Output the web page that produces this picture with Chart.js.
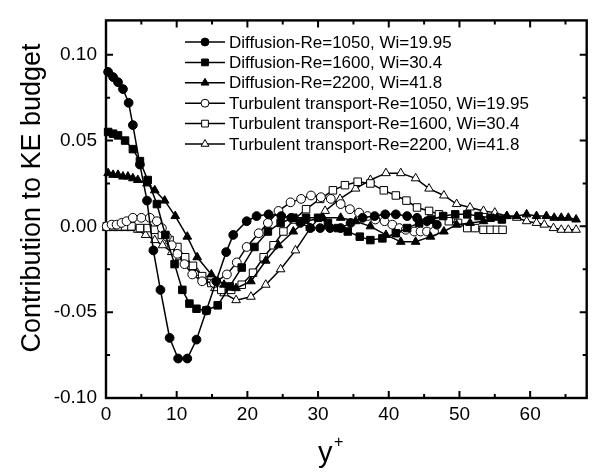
<!DOCTYPE html>
<html>
<head>
<meta charset="utf-8">
<script src="https://cdn.jsdelivr.net/npm/chart.js@4.4.1/dist/chart.umd.min.js"></script>
<style>
  html, body { margin: 0; padding: 0; background: #fff; }
  #wrap { width: 593px; height: 475px; }
</style>
</head>
<body>
<div id="wrap"><canvas id="chart" width="593" height="475"></canvas></div>
<script>
const xTicks = [0, 10, 20, 30, 40, 50, 60];
const yTicks = [-0.10, -0.05, 0.00, 0.05, 0.10];

const seriesNames = [
  'Diffusion-Re=1050, Wi=19.95',
  'Diffusion-Re=1600, Wi=30.4',
  'Diffusion-Re=2200, Wi=41.8',
  'Turbulent transport-Re=1050, Wi=19.95',
  'Turbulent transport-Re=1600, Wi=30.4',
  'Turbulent transport-Re=2200, Wi=41.8'
];

const diff1050X = [0.3, 1.0, 1.7, 2.4, 3.2, 3.8, 4.8, 5.8, 6.7, 7.7, 9.0, 10.2, 11.5, 12.8, 14.2, 15.6, 17.0, 18.0, 19.9, 21.3, 23.0, 24.8, 26.2, 27.5, 28.9, 30.3, 31.7, 33.2, 34.6, 36.3, 38.0, 39.5, 41.0, 42.6, 44.0, 45.4, 46.8];
const diff1050Y = [0.090, 0.087, 0.084, 0.080, 0.072, 0.059, 0.036, 0.015, -0.014, -0.037, -0.065, -0.077, -0.077, -0.066, -0.049, -0.032, -0.015, -0.005, 0.003, 0.006, 0.007, 0.006, 0.005, 0.002, -0.001, -0.001, -0.001, -0.001, 0.002, 0.005, 0.006, 0.007, 0.007, 0.006, 0.005, 0.003, 0.001];

const diff1600X = [0.3, 1.0, 1.7, 2.7, 3.8, 4.8, 5.9, 7.2, 8.4, 9.7, 10.8, 11.8, 12.8, 14.2, 15.8, 17.5, 19.2, 21.0, 22.9, 24.7, 26.5, 28.3, 30.0, 31.4, 32.8, 34.2, 35.9, 37.4, 39.1, 41.0, 42.6, 44.3, 46.0, 47.7, 49.4, 51.1, 52.7, 54.4, 56.0];
const diff1600Y = [0.055, 0.054, 0.053, 0.050, 0.045, 0.038, 0.027, 0.013, -0.005, -0.022, -0.037, -0.045, -0.048, -0.049, -0.046, -0.035, -0.024, -0.012, -0.003, 0.002, 0.005, 0.005, 0.005, 0.002, -0.001, -0.003, -0.006, -0.008, -0.007, -0.004, -0.001, 0.002, 0.004, 0.006, 0.007, 0.007, 0.006, 0.005, 0.004];

const diff2200X = [0.3, 1.0, 1.7, 2.4, 3.1, 3.8, 4.5, 5.8, 6.9, 8.3, 9.8, 11.5, 12.9, 14.9, 16.7, 18.4, 20.5, 22.6, 24.4, 26.5, 28.2, 30.7, 33.2, 35.3, 37.4, 39.6, 41.7, 43.8, 45.9, 47.8, 49.6, 51.5, 53.4, 55.3, 56.7, 58.1, 59.5, 60.9, 62.3, 63.4, 64.4, 65.4, 66.5];
const diff2200Y = [0.031, 0.030, 0.030, 0.029, 0.029, 0.028, 0.027, 0.025, 0.021, 0.015, 0.006, -0.006, -0.018, -0.028, -0.034, -0.036, -0.032, -0.020, -0.011, -0.003, 0.003, 0.005, 0.005, 0.003, 0.000, -0.005, -0.009, -0.009, -0.006, -0.003, 0.001, 0.002, 0.003, 0.005, 0.006, 0.006, 0.007, 0.006, 0.006, 0.005, 0.005, 0.005, 0.004];

const turb1050X = [0.1, 0.8, 1.5, 2.2, 2.9, 3.8, 5.0, 6.2, 7.2, 7.9, 8.6, 9.3, 10.1, 11.1, 12.2, 13.6, 15.3, 17.1, 18.5, 19.9, 21.6, 22.9, 24.4, 26.1, 27.6, 29.0, 30.4, 31.8, 33.2, 34.5, 35.8, 37.0, 38.1, 39.4, 40.5, 41.5, 42.4, 43.6, 44.5, 45.4, 46.4];
const turb1050Y = [0.000, 0.001, 0.001, 0.002, 0.003, 0.005, 0.005, 0.005, 0.003, -0.001, -0.006, -0.011, -0.016, -0.022, -0.028, -0.032, -0.033, -0.028, -0.021, -0.012, -0.004, 0.002, 0.009, 0.014, 0.016, 0.018, 0.017, 0.016, 0.013, 0.010, 0.008, 0.006, 0.004, 0.003, 0.001, -0.001, -0.002, -0.003, -0.003, -0.003, -0.003];

const turb1600X = [0.1, 1.0, 1.8, 2.7, 3.6, 4.8, 5.9, 6.9, 7.9, 9.0, 10.1, 11.2, 12.3, 13.6, 14.9, 16.3, 17.7, 19.2, 20.8, 22.3, 23.7, 25.1, 26.6, 28.3, 30.3, 32.1, 33.8, 35.6, 37.4, 39.3, 41.0, 42.5, 44.0, 45.7, 47.1, 48.5, 49.8, 51.1, 52.2, 53.4, 54.4, 55.3, 56.1];
const turb1600Y = [0.000, 0.000, 0.000, 0.000, 0.000, -0.001, -0.001, -0.002, -0.005, -0.008, -0.012, -0.018, -0.023, -0.029, -0.033, -0.037, -0.037, -0.034, -0.027, -0.018, -0.011, -0.003, 0.004, 0.010, 0.016, 0.021, 0.024, 0.026, 0.025, 0.021, 0.018, 0.015, 0.011, 0.009, 0.007, 0.003, 0.002, -0.001, -0.001, -0.002, -0.002, -0.002, -0.002];

const turb2200X = [0.1, 1.0, 1.8, 2.7, 3.5, 4.5, 5.6, 6.9, 8.0, 9.3, 10.4, 11.6, 12.9, 14.2, 15.4, 16.7, 18.4, 20.5, 22.6, 24.7, 26.8, 28.9, 31.0, 33.1, 35.3, 37.4, 39.6, 41.7, 43.8, 45.7, 47.8, 49.6, 51.5, 53.4, 55.0, 56.7, 58.1, 59.5, 60.9, 62.0, 63.3, 64.4, 65.4, 66.5];
const turb2200Y = [-0.001, -0.001, -0.001, -0.001, -0.001, -0.002, -0.005, -0.008, -0.011, -0.015, -0.018, -0.022, -0.027, -0.032, -0.036, -0.039, -0.043, -0.041, -0.034, -0.025, -0.014, -0.001, 0.009, 0.016, 0.022, 0.027, 0.031, 0.031, 0.028, 0.022, 0.018, 0.013, 0.011, 0.009, 0.008, 0.006, 0.005, 0.003, 0.002, 0.001, -0.001, -0.002, -0.002, -0.002];

const FONT = '"Liberation Sans", Arial, Helvetica, sans-serif';

const pts = (xs, ys) => xs.map((x, i) => ({ x: x, y: ys[i] }));

const makeSet = (i, xs, ys, style, filled, radius) => ({
  label: seriesNames[i],
  data: pts(xs, ys),
  borderColor: '#000',
  borderWidth: 1.5,
  pointStyle: style,
  pointRadius: radius,
  pointHoverRadius: radius,
  pointBackgroundColor: filled ? '#000' : '#fff',
  pointBorderColor: '#000',
  pointBorderWidth: 1,
  tension: 0,
  clip: false,
});

// inward ticks on all four sides plus the box
const framePlugin = {
  id: 'frame',
  beforeDatasetsDraw(chart) {
    const { ctx, chartArea: a, scales: { x, y } } = chart;
    ctx.save();
    ctx.strokeStyle = '#000';
    ctx.lineWidth = 2;
    ctx.beginPath();
    for (let v = 0; v <= 68; v += 5) {
      const px = x.getPixelForValue(v);
      const len = v % 10 === 0 ? 7 : 4;
      ctx.moveTo(px, a.bottom); ctx.lineTo(px, a.bottom - len);
      ctx.moveTo(px, a.top); ctx.lineTo(px, a.top + len);
    }
    for (let k = -4; k <= 4; k++) {
      const py = y.getPixelForValue(k * 0.025);
      const len = k % 2 === 0 ? 7 : 4;
      ctx.moveTo(a.left, py); ctx.lineTo(a.left + len, py);
      ctx.moveTo(a.right, py); ctx.lineTo(a.right - len, py);
    }
    ctx.stroke();
    ctx.lineWidth = 2.4;
    ctx.strokeRect(a.left, a.top, a.right - a.left, a.bottom - a.top);
    ctx.restore();
  }
};

const legendPlugin = {
  id: 'innerLegend',
  afterDraw(chart) {
    const { ctx } = chart;
    ctx.save();
    ctx.font = '17px ' + FONT;
    ctx.textBaseline = 'middle';
    ctx.fillStyle = '#000';
    chart.data.datasets.forEach((ds, i) => {
      const ry = 42 + i * 20.4;
      ctx.strokeStyle = '#000';
      ctx.lineWidth = 1.5;
      ctx.beginPath();
      ctx.moveTo(185, ry); ctx.lineTo(225, ry);
      ctx.stroke();
      ctx.fillStyle = ds.pointBackgroundColor;
      ctx.lineWidth = 1;
      Chart.helpers.drawPoint(ctx, { pointStyle: ds.pointStyle, radius: ds.pointRadius * 0.9, borderWidth: 1, rotation: 0 }, 205, ry);
      ctx.fillStyle = '#000';
      ctx.fillText(ds.label, 229, ry + 1);
    });
    ctx.restore();
  }
};

const titlePlugin = {
  id: 'axisTitles',
  afterDraw(chart) {
    const { ctx } = chart;
    ctx.save();
    ctx.fillStyle = '#000';
    ctx.textAlign = 'center';
    ctx.textBaseline = 'middle';
    ctx.translate(33, 198);
    ctx.rotate(-Math.PI / 2);
    ctx.font = '27px ' + FONT;
    ctx.fillText('Contribution to KE budget', 0, 0);
    ctx.restore();

    ctx.save();
    ctx.fillStyle = '#000';
    ctx.textBaseline = 'alphabetic';
    ctx.font = '29px ' + FONT;
    ctx.fillText('y', 318, 462);
    ctx.font = '16px ' + FONT;
    ctx.fillText('+', 334, 447);
    ctx.restore();
  }
};

new Chart(document.getElementById('chart'), {
  type: 'line',
  data: {
    datasets: [
      makeSet(0, diff1050X, diff1050Y, 'circle', true, 4.4),
      makeSet(1, diff1600X, diff1600Y, 'rect', true, 5.3),
      makeSet(2, diff2200X, diff2200Y, 'triangle', true, 5.0),
      makeSet(3, turb1050X, turb1050Y, 'circle', false, 4.4),
      makeSet(4, turb1600X, turb1600Y, 'rect', false, 5.3),
      makeSet(5, turb2200X, turb2200Y, 'triangle', false, 5.0),
    ]
  },
  options: {
    responsive: false,
    animation: false,
    events: [],
    layout: { padding: { left: 0, top: 10, right: 3, bottom: 0 } },
    plugins: {
      legend: { display: false },
      tooltip: { enabled: false },
    },
    scales: {
      x: {
        type: 'linear',
        min: 0,
        max: 68,
        afterBuildTicks: (scale) => { scale.ticks = xTicks.map((v) => ({ value: v })); },
        afterFit: (scale) => { scale.height = 77; },
        grid: { display: false, drawTicks: false },
        border: { display: false },
        ticks: {
          color: '#000',
          padding: 5,
          maxRotation: 0,
          font: { family: FONT, size: 19 },
          callback: (v) => String(v),
        },
      },
      y: {
        type: 'linear',
        min: -0.10,
        max: 0.12,
        afterBuildTicks: (scale) => { scale.ticks = yTicks.map((v) => ({ value: v })); },
        afterFit: (scale) => { scale.width = 106; },
        grid: { display: false, drawTicks: false },
        border: { display: false },
        ticks: {
          color: '#000',
          padding: 9,
          font: { family: FONT, size: 19 },
          callback: (v) => v.toFixed(2),
        },
      },
    },
  },
  plugins: [framePlugin, legendPlugin, titlePlugin],
});
</script>
</body>
</html>
